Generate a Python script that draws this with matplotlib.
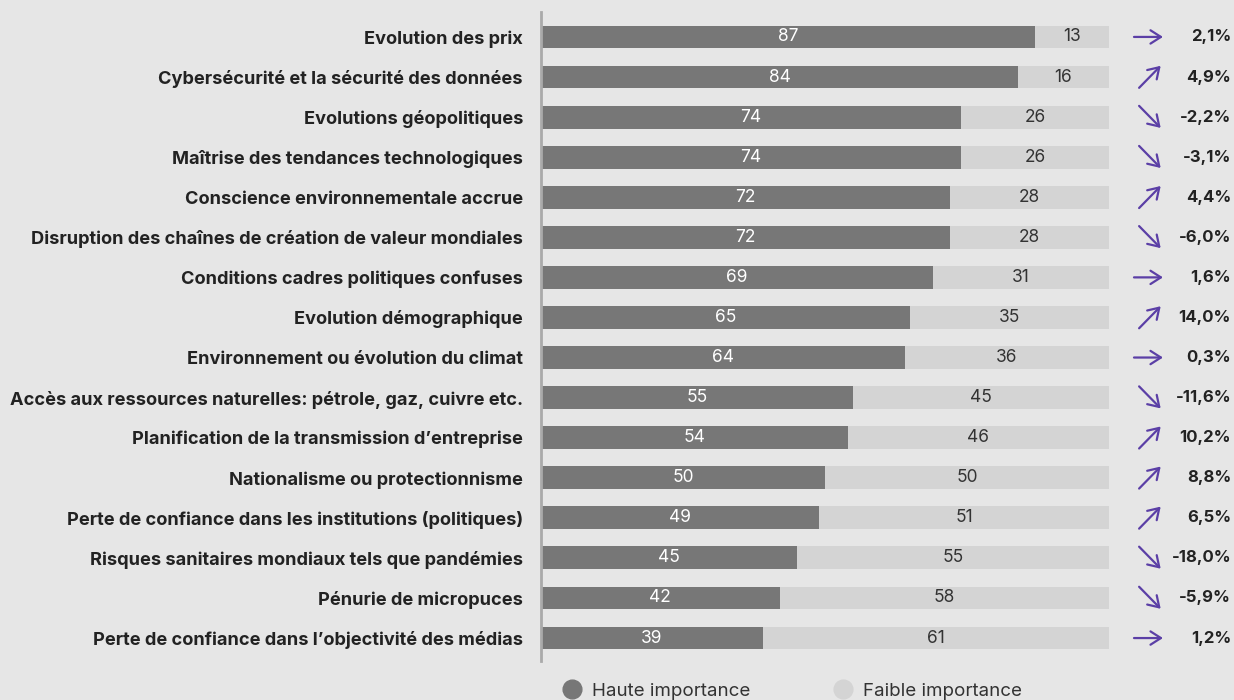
import matplotlib.pyplot as plt
from matplotlib.lines import Line2D

plt.rcParams['font.family'] = ['Inter', 'DejaVu Sans']

categories = [
    "Evolution des prix",
    "Cybersécurité et la sécurité des données",
    "Evolutions géopolitiques",
    "Maîtrise des tendances technologiques",
    "Conscience environnementale accrue",
    "Disruption des chaînes de création de valeur mondiales",
    "Conditions cadres politiques confuses",
    "Evolution démographique",
    "Environnement ou évolution du climat",
    "Accès aux ressources naturelles: pétrole, gaz, cuivre etc.",
    "Planification de la transmission d\u2019entreprise",
    "Nationalisme ou protectionnisme",
    "Perte de confiance dans les institutions (politiques)",
    "Risques sanitaires mondiaux tels que pandémies",
    "Pénurie de micropuces",
    "Perte de confiance dans l\u2019objectivité des médias",
]
haute = [87, 84, 74, 74, 72, 72, 69, 65, 64, 55, 54, 50, 49, 45, 42, 39]
faible = [13, 16, 26, 26, 28, 28, 31, 35, 36, 45, 46, 50, 51, 55, 58, 61]
change = ["2,1%", "4,9%", "-2,2%", "-3,1%", "4,4%", "-6,0%", "1,6%", "14,0%",
          "0,3%", "-11,6%", "10,2%", "8,8%", "6,5%", "-18,0%", "-5,9%", "1,2%"]
trend = ["flat", "up", "down", "down", "up", "down", "flat", "up",
         "flat", "down", "up", "up", "up", "down", "down", "flat"]

bg = '#e6e6e6'
dark = '#777777'
light = '#d4d4d4'
purple = '#5b3fa6'

fig = plt.figure(figsize=(12.34, 7), dpi=100, facecolor=bg)
ax = fig.add_axes([0.4384, 0.0557, 0.4603, 0.9272])
ax.set_facecolor(bg)

y = list(range(len(categories)))
ax.barh(y, haute, height=0.57, color=dark)
ax.barh(y, faible, left=haute, height=0.57, color=light)

for i in y:
    ax.text(haute[i] / 2, i, str(haute[i]), ha='center', va='center',
            color='white', fontsize=12.5)
    ax.text(haute[i] + faible[i] / 2, i, str(faible[i]), ha='center',
            va='center', color='#333333', fontsize=12.5)
    # fleches de tendance
    if trend[i] == 'flat':
        start, end = (1.044, i), (1.095, i)
    elif trend[i] == 'up':
        start, end = (1.053, i + 0.27), (1.091, i - 0.28)
    else:
        start, end = (1.053, i - 0.28), (1.091, i + 0.27)
    ax.annotate('', xy=end, xytext=start,
                xycoords=('axes fraction', 'data'),
                textcoords=('axes fraction', 'data'),
                arrowprops=dict(arrowstyle='->,head_length=0.75,head_width=0.48',
                                color=purple, lw=1.6, shrinkA=0, shrinkB=0))
    ax.text(1.2148, i, change[i], transform=ax.get_yaxis_transform(),
            ha='right', va='center', fontsize=12, fontweight='bold',
            color='#222222')

ax.set_xlim(0, 100)
ax.set_ylim(15.573, -0.623)
ax.set_yticks(y)
ax.set_yticklabels(categories, fontsize=13.1, fontweight='bold', color='#222222')
ax.tick_params(axis='y', length=0, pad=13)
ax.set_xticks([])
for s in ['top', 'right', 'bottom']:
    ax.spines[s].set_visible(False)
ax.spines['left'].set_color('#aaaaaa')
ax.spines['left'].set_linewidth(2)

handles = [
    Line2D([], [], marker='o', linestyle='none', markersize=13.5,
           markerfacecolor=dark, markeredgecolor=dark, label='Haute importance'),
    Line2D([], [], marker='o', linestyle='none', markersize=13.5,
           markerfacecolor=light, markeredgecolor=light, label='Faible importance'),
]
fig.legend(handles=handles, loc='lower center', bbox_to_anchor=(0.6414, -0.024),
           ncol=2, frameon=False, fontsize=13.5, columnspacing=4.3,
           handlelength=1.2, handletextpad=0.47, labelcolor='#333333')

fig.savefig('out.png', dpi=100, facecolor=bg)
